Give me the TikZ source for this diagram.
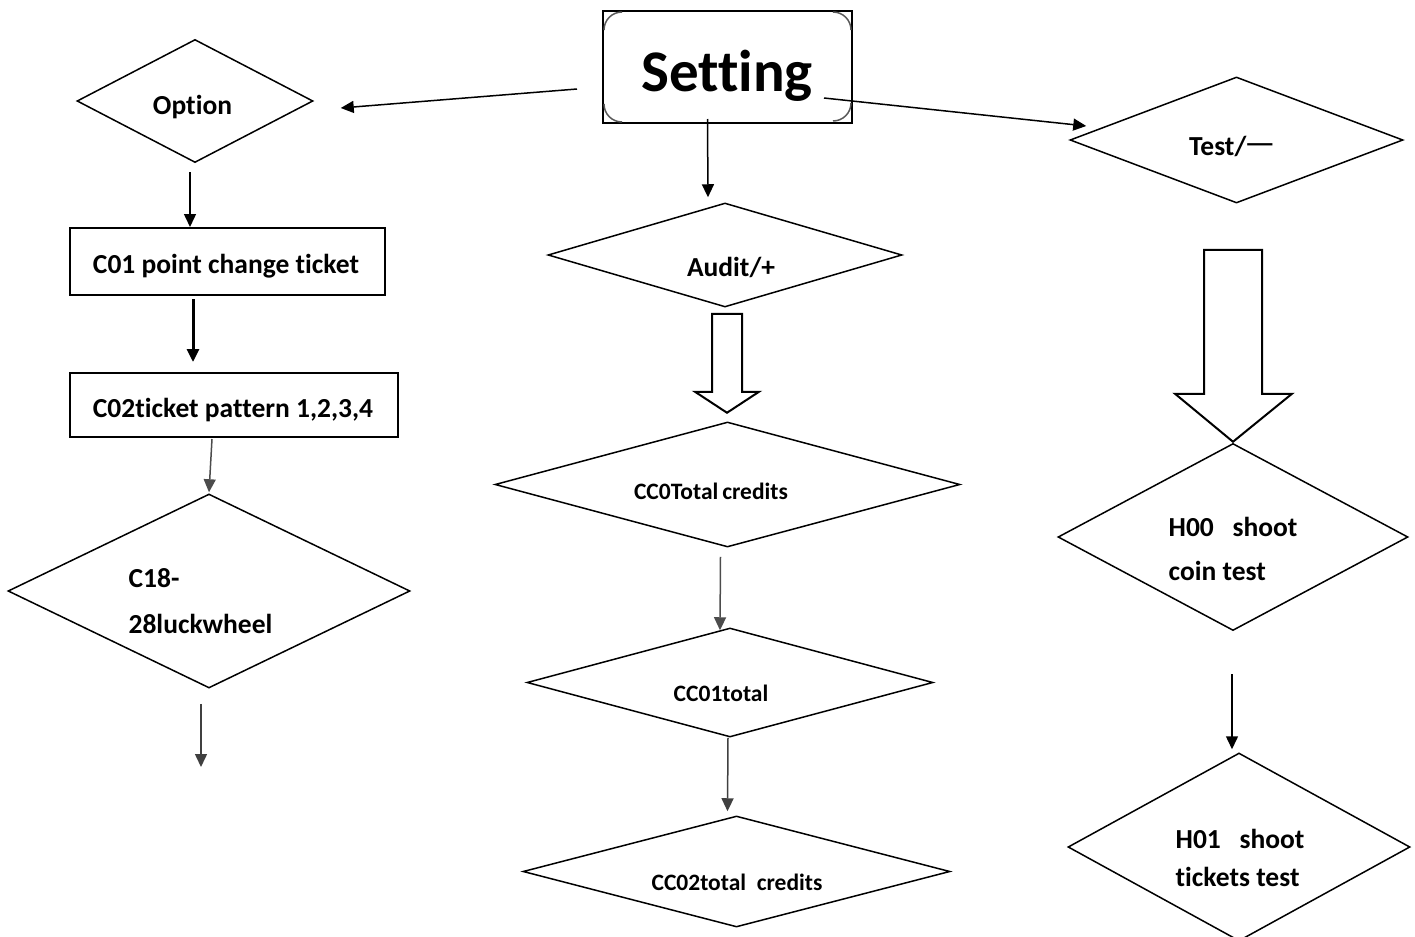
\documentclass[tikz,border=0pt]{standalone}
\usepackage{fontspec}
\setmainfont{Carlito}[Ligatures=NoCommon]
\newfontfamily\cjk{Noto Sans CJK SC}
\usepackage{tikz}
\usetikzlibrary{shapes.geometric,arrows.meta,calc}

\tikzset{
    flowdia/.style={draw, shape=diamond, aspect=2, inner sep=0pt, line width=0.75pt},
    flowbox/.style={draw, rectangle, inner sep=0pt, line width=1pt},
    txt/.style={inner sep=0pt, align=left, font=\bfseries\fontsize{13.75}{16}\selectfont},
    smalltxt/.style={txt, font=\bfseries\fontsize{11.75}{14}\selectfont},
    arr/.style={-{Triangle[length=6.5pt,width=6pt]}, line width=0.75pt},
    hollow/.style={draw, line width=1pt, fill=white, line join=miter},
    corner/.style={line width=0.75pt, draw=black!65},
}

\begin{document}
\begin{tikzpicture}[x=0.5pt,y=0.5pt,yscale=-1,xscale=1]
\useasboundingbox (0,0) rectangle (1415,937);

        %Shape: Rectangle [Setting]
        \node [flowbox, minimum width=124.5pt, minimum height=56pt] (setting) at (727.5,67) {};
        %Shape: Arcs [Setting corners]
        \draw [corner] ($(setting.north west)+(2,20)$) arc (180:270:18);
        \draw [corner] ($(setting.north east)+(-20,2)$) arc (270:360:18);
        \draw [corner] ($(setting.south east)+(-2,-21)$) arc (0:90:18);
        \draw [corner] ($(setting.south west)+(20,-2)$) arc (90:180:18);

        %Shape: Diamond [left column]
        \node [flowdia, minimum width=118pt, minimum height=61.5pt] (option) at (195,101) {};
        %Shape: Rectangle
        \node [flowbox, minimum width=157.5pt, minimum height=33.5pt] (c01) at (227.5,261.5) {};
        %Shape: Rectangle
        \node [flowbox, minimum width=164pt, minimum height=32pt] (c02) at (234,405) {};
        %Shape: Diamond
        \node [flowdia, minimum width=201pt, minimum height=97pt] (c18) at (209,591) {};
        \coordinate (c18end) at (201,767);

        %Shape: Diamond [middle column]
        \node [flowdia, minimum width=177pt, minimum height=52pt] (audit) at (725,255) {};
        \node [flowdia, minimum width=232.5pt, minimum height=62.5pt] (cc0) at (727.5,484.5) {};
        \node [flowdia, minimum width=203pt, minimum height=54.5pt] (cc01) at (730,682.5) {};
        \node [flowdia, minimum width=213.5pt, minimum height=55.5pt] (cc02) at (736.5,871.5) {};

        %Shape: Diamond [right column]
        \node [flowdia, minimum width=166.5pt, minimum height=63pt] (test) at (1236.5,140) {};
        \node [flowdia, minimum width=175pt, minimum height=93.5pt] (h00) at (1233,537) {};
        \node [flowdia, minimum width=171pt, minimum height=94pt] (h01) at (1239,847) {};

        %Straight Lines [from Setting]
        \draw [arr] ($(setting.west)+(-25,22)$) -- ($(option.east)+(27,7)$);
        \draw [arr] ($(setting.south)+(-20,-5)$) -- ($(audit.north)+(-17,-5)$);
        \draw [arr] ($(setting.east)+(-29,31)$) -- ($(test.west)+(17,-14)$);

        %Straight Lines [left column]
        \draw [arr] ($(option.south)+(-5,9)$) coordinate (a1) -- (a1 |- c01.north);
        \draw [arr, line width=1.5pt] ($(c01.south)+(-34.5,3)$) -- ($(c02.north)+(-41,-10)$);
        \draw [arr, draw=black!70] ($(c02.south)+(-22,1)$) -- ($(c18.north)+(0,-1)$);
        \draw [arr, draw=black!75] ($(c18.south)+(-8,15)$) -- (c18end);

        %Straight Lines [middle column]
        \draw [arr, draw=black!70] ($(cc0.south)+(-7,9)$) -- ($(cc01.north)+(-10,3)$);
        \draw [arr, draw=black!75] ($(cc01.south)+(-2,0)$) -- ($(cc02.north)+(-9,-4)$);

        %Straight Lines [right column]
        \draw [arr] ($(h00.south)+(-1,43)$) -- ($(h01.north)+(-7,-3)$);

        %Shape: Block Arrow [Audit to CC0]
        \draw [hollow] ($(audit.south)+(-13,6)$) -- ++(30,0) -- ++(0,78) -- ++(17,0) -- ++(-32,21) -- ++(-32,-21) -- ++(17,0) -- cycle;
        %Shape: Block Arrow [Test to H00]
        \draw [hollow] ($(test.south)+(-32.5,46)$) -- ++(58,0) -- ++(0,144) -- ++(30,0) -- ++(-59,48) -- ++(-58,-48) -- ++(29,0) -- cycle;

        %Texts
        \node [txt, font=\bfseries\fontsize{29.5}{32}\selectfont] (settingtext) at (727,76) {Setting};
        \node [txt] (optiontext) at (192.5,107) {Option};
        \node [txt] (c01text) at (226,266) {C01 point change ticket};
        \node [txt] (c02text) at (233,410) {C02ticket pattern 1,2,3,4};
        \node [txt, font=\bfseries\fontsize{13.75}{23}\selectfont] (c18text) at (200.5,601.5) {C18-\\28luckwheel};
        \node [txt] (audittext) at (731,267) {Audit/+};
        \node [smalltxt] (cc0text) at (711,491) {CC0Total\,credits};
        \node [smalltxt] (cc01text) at (721,693) {CC01total};
        \node [smalltxt] (cc02text) at (737,882) {CC02total~~credits};
        \node [txt] (testtext) at (1231.5,146) {Test/{\cjk\mdseries 一}};
        \node [txt, font=\bfseries\fontsize{13.75}{22}\selectfont] (h00text) at (1233,549) {H00~~~shoot\\coin test};
        \node [txt, font=\bfseries\fontsize{13.75}{19}\selectfont] (h01text) at (1240,857.5) {H01~~~shoot\\tickets test};
\end{tikzpicture}
\end{document}
